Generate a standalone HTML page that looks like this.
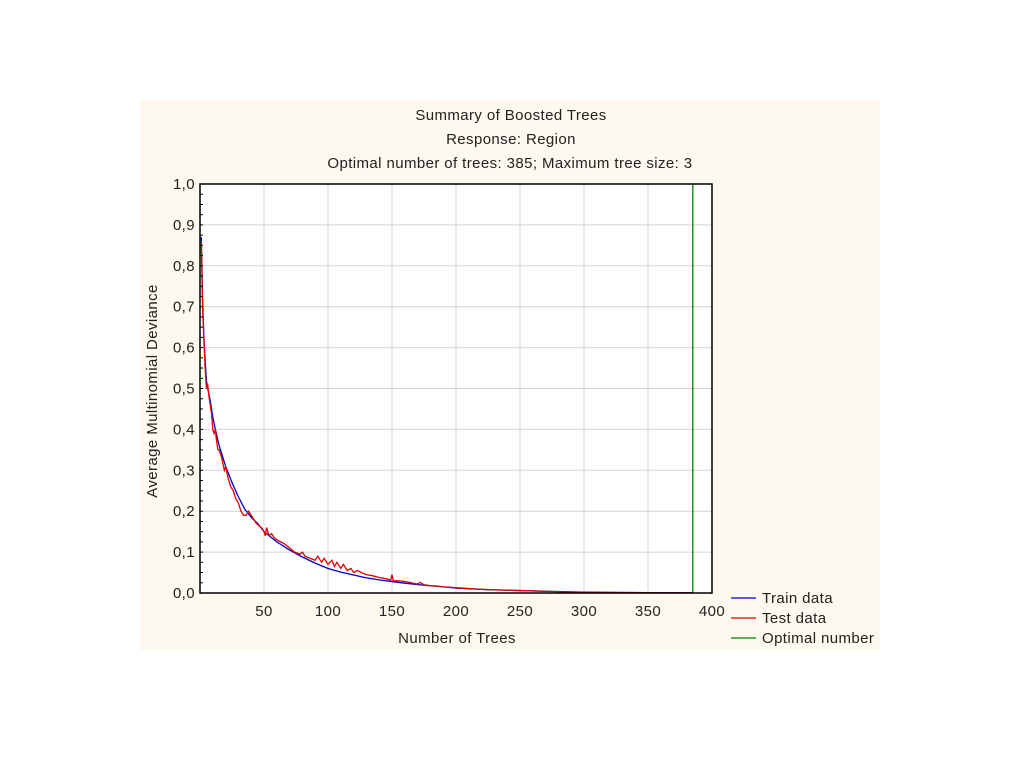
<!DOCTYPE html>
<html><head><meta charset="utf-8"><style>
html,body{margin:0;padding:0;background:#fff;width:1024px;height:767px;overflow:hidden}
svg{position:absolute;left:0;top:0}
text{font-family:"Liberation Sans",Arial,sans-serif;fill:#222;letter-spacing:0.4px}
</style></head><body>
<svg id="chart" width="1024" height="767">
<rect x="140" y="100" width="740" height="550" fill="#fdf9ef"/>
<text x="511" y="120" font-size="15" text-anchor="middle">Summary of Boosted Trees</text>
<text x="511" y="144" font-size="15" text-anchor="middle">Response: Region</text>
<text x="510" y="168" font-size="15" text-anchor="middle">Optimal number of trees: 385; Maximum tree size: 3</text>
<rect x="200" y="184" width="512" height="409" fill="#fff"/>
<g id="grid"></g><g id="series"></g><g id="axes"></g>
<text x="457" y="643" font-size="15" text-anchor="middle">Number of Trees</text>
<text transform="translate(157,391) rotate(-90)" font-size="15" text-anchor="middle">Average Multinomial Deviance</text>
<g>
<g><line x1="731" y1="598" x2="756" y2="598" stroke="#0000cc" stroke-width="1.3"/><text x="762" y="603" font-size="15">Train data</text></g>
<g><line x1="731" y1="618" x2="756" y2="618" stroke="#e00000" stroke-width="1.3"/><text x="762" y="623" font-size="15">Test data</text></g>
<g><line x1="731" y1="638" x2="756" y2="638" stroke="#008000" stroke-width="1.3"/><text x="762" y="643" font-size="15">Optimal number</text></g>
</g>
</svg>
<script>
const xTicks=[50,100,150,200,250,300,350,400];
const yTicks=[0,0.1,0.2,0.3,0.4,0.5,0.6,0.7,0.8,0.9,1.0];
const yTickLabels=["0,0","0,1","0,2","0,3","0,4","0,5","0,6","0,7","0,8","0,9","1,0"];
const trainTrees=[1,2,3,4,5,6,8,10,12,15,18,20,25,30,35,40,45,50,60,70,80,90,100,110,120,130,140,150,160,175,190,200,225,250,275,300,325,350,385];
const trainValues=[0.87,0.72,0.63,0.57,0.52,0.5,0.47,0.43,0.4,0.36,0.33,0.31,0.27,0.235,0.205,0.185,0.17,0.15,0.125,0.105,0.088,0.073,0.06,0.051,0.044,0.037,0.032,0.028,0.024,0.019,0.015,0.012,0.008,0.006,0.004,0.002,0.0015,0.001,0.0005];
const testTrees=[1,2,3,4,5,6,7,8,9,10,11,12,13,14,15,17,19,20,22,24,26,28,30,32,34,36,38,40,42,44,46,48,50,51,52,54,56,58,60,63,66,70,74,78,80,82,86,90,92,95,97,100,103,105,107,110,112,115,118,120,123,126,130,135,140,145,149,150,151,155,160,165,170,172,175,180,185,190,200,210,220,230,240,250,260,270,280,290,300,320,340,360,385];
const testValues=[0.86,0.7,0.62,0.55,0.5,0.51,0.48,0.46,0.44,0.4,0.39,0.4,0.37,0.35,0.35,0.33,0.3,0.31,0.28,0.26,0.25,0.23,0.22,0.2,0.19,0.19,0.2,0.19,0.18,0.17,0.165,0.16,0.15,0.14,0.16,0.14,0.145,0.135,0.13,0.125,0.12,0.11,0.1,0.095,0.1,0.09,0.085,0.08,0.09,0.075,0.085,0.07,0.08,0.065,0.075,0.06,0.07,0.055,0.06,0.05,0.055,0.05,0.045,0.042,0.038,0.035,0.032,0.045,0.03,0.03,0.028,0.025,0.022,0.026,0.02,0.018,0.017,0.015,0.013,0.011,0.009,0.008,0.007,0.006,0.005,0.004,0.003,0.002,0.0015,0.001,0.0008,0.0006,0.0004];
const optimalTrees=385;
const X0=200,X1=712,Y0=593,Y1=184;
const xs=v=>X0+(v/400)*(X1-X0);
const ys=v=>Y0-(v/1.0)*(Y0-Y1);
const NS="http://www.w3.org/2000/svg";
function mk(tag,attrs,parent){const e=document.createElementNS(NS,tag);for(const k in attrs)e.setAttribute(k,attrs[k]);parent.appendChild(e);return e;}
const grid=document.getElementById('grid'),ser=document.getElementById('series'),ax=document.getElementById('axes');
xTicks.forEach(t=>{
 if(t<400){const g=mk('line',{x1:xs(t),x2:xs(t),y1:Y1,y2:Y0,stroke:'#d4d4d4','stroke-width':1},grid);
 
 }
 const l=mk('text',{x:xs(t),y:Y0+23,'font-size':15,'text-anchor':'middle'},ax);l.textContent=t;
 
 
});
yTicks.forEach((t,i)=>{
 if(t>0&&t<1){const g=mk('line',{x1:X0,x2:X1,y1:ys(t),y2:ys(t),stroke:'#d4d4d4','stroke-width':1},grid);
 
 }
 const l=mk('text',{x:X0-5,y:ys(t)+5,'font-size':15,'text-anchor':'end'},ax);l.textContent=yTickLabels[i];
 
 
});
for(let v=0;v<=1.0001;v+=0.025){mk('line',{x1:X0,x2:X0+3,y1:ys(v),y2:ys(v),stroke:'#000'},ax);}
const opt=mk('line',{x1:xs(optimalTrees),x2:xs(optimalTrees),y1:Y1,y2:Y0,stroke:'#008000','stroke-width':1.3},ser);


const tr=mk('polyline',{points:trainTrees.map((t,i)=>xs(t)+','+ys(trainValues[i])).join(' '),fill:'none',stroke:'#0000cc','stroke-width':1.3},ser);


const te=mk('polyline',{points:testTrees.map((t,i)=>xs(t)+','+ys(testValues[i])).join(' '),fill:'none',stroke:'#e00000','stroke-width':1.3},ser);


const fr=mk('rect',{x:X0,y:Y1,width:X1-X0,height:Y0-Y1,fill:'none',stroke:'#000','stroke-width':1.5},ax);


</script>
</body></html>
